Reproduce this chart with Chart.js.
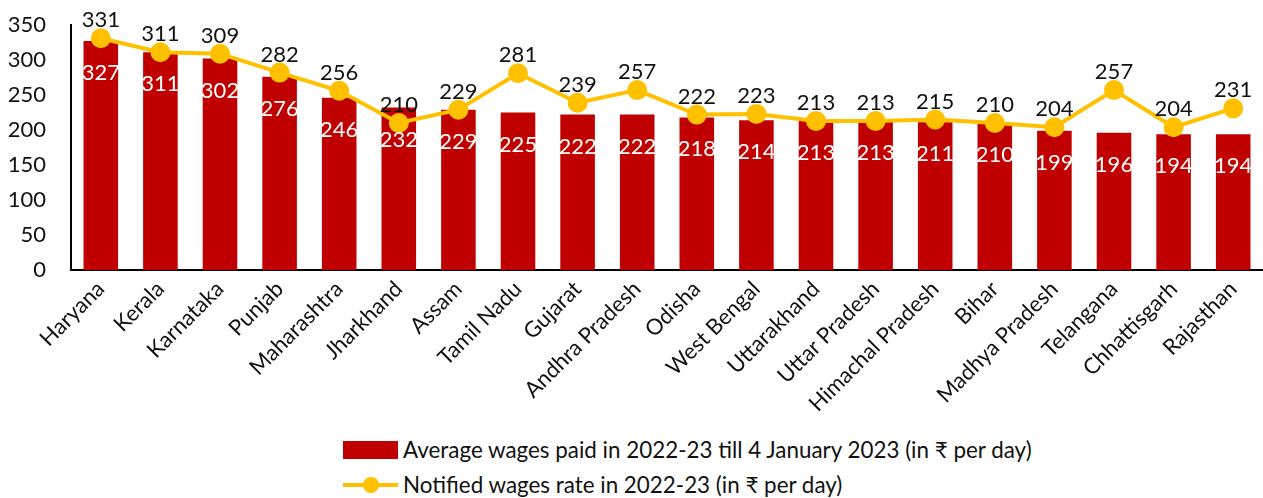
<!DOCTYPE html>
<html>
<head>
<meta charset="utf-8">
<script src="https://cdn.jsdelivr.net/npm/chart.js@4.4.0/dist/chart.umd.min.js"></script>
<style>
  html, body { margin: 0; padding: 0; background: #fff; }
  body { width: 1263px; height: 498px; overflow: hidden; font-family: Lato, "Open Sans", sans-serif; }
  #wrap { position: relative; width: 1263px; height: 423px; }
  #legend { position: absolute; left: 343px; top: 432px; font-size: 22.4px; color: #111; line-height: 35px; }
  .item { display: flex; align-items: center; white-space: nowrap; }
  .box { width: 55px; height: 18px; background: #C00000; margin-right: 5px; }
  .line { position: relative; width: 55px; height: 18px; margin-right: 5px; }
  .line::before { content: ""; position: absolute; left: 0; right: 0; top: 7px; height: 4px; background: #FFC000; }
  .line::after { content: ""; position: absolute; left: 20px; top: 1px; width: 16px; height: 16px; border-radius: 50%; background: #FFC000; }
</style>
</head>
<body>
<div id="wrap"><canvas id="c" width="1263" height="423"></canvas></div>
<div id="legend">
  <div class="item"><span class="box"></span><span>Average wages paid in 2022-23 till 4 January 2023 (in ₹ per day)</span></div>
  <div class="item"><span class="line"></span><span>Notified wages rate in 2022-23 (in ₹ per day)</span></div>
</div>
<script>
const categories = ["Haryana","Kerala","Karnataka","Punjab","Maharashtra","Jharkhand","Assam","Tamil Nadu","Gujarat","Andhra Pradesh","Odisha","West Bengal","Uttarakhand","Uttar Pradesh","Himachal Pradesh","Bihar","Madhya Pradesh","Telangana","Chhattisgarh","Rajasthan"];
const averageWagesPaid = [327,311,302,276,246,232,229,225,222,222,218,214,213,213,211,210,199,196,194,194];
const notifiedWageRate = [331,311,309,282,256,210,229,281,239,257,222,223,213,213,215,210,204,257,204,231];
const yTicks = [0,50,100,150,200,250,300,350];

const FONT = 'Lato, "Open Sans", sans-serif';

const labelPlugin = {
  id: 'valueLabels',
  afterDatasetsDraw(chart) {
    const ctx = chart.ctx;
    ctx.save();
    ctx.font = '22px ' + FONT;
    ctx.textAlign = 'center';
    ctx.textBaseline = 'middle';
    const barMeta = chart.getDatasetMeta(1);
    barMeta.data.forEach((el, i) => {
      ctx.fillStyle = '#ffffff';
      ctx.fillText(String(averageWagesPaid[i]), el.x, el.y + 32);
    });
    const lineMeta = chart.getDatasetMeta(0);
    lineMeta.data.forEach((el, i) => {
      ctx.fillStyle = '#111111';
      ctx.fillText(String(notifiedWageRate[i]), el.x, el.y - 18);
    });
    ctx.restore();
  }
};

const noSidePadding = {
  id: 'noSidePadding',
  beforeLayout(chart) {
    const xs = chart.scales.x;
    if (xs && !xs._patched) {
      const orig = xs.getPadding.bind(xs);
      xs.getPadding = function () {
        const p = orig();
        return { left: 0, right: 0, top: p.top, bottom: p.bottom };
      };
      xs._patched = true;
    }
  }
};

new Chart(document.getElementById('c'), {
  data: {
    labels: categories,
    datasets: [
      {
        type: 'line',
        label: 'Notified wages rate in 2022-23 (in ₹ per day)',
        data: notifiedWageRate,
        borderColor: '#FFC000',
        backgroundColor: '#FFC000',
        borderWidth: 4,
        pointRadius: 8,
        pointHoverRadius: 8,
        pointBackgroundColor: '#FFC000',
        pointBorderColor: '#FFC000',
        tension: 0,
        order: 0
      },
      {
        type: 'bar',
        label: 'Average wages paid in 2022-23 till 4 January 2023 (in ₹ per day)',
        data: averageWagesPaid,
        backgroundColor: '#C00000',
        borderWidth: 0,
        barPercentage: 0.58,
        categoryPercentage: 1.0,
        order: 1
      }
    ]
  },
  options: {
    responsive: false,
    animation: false,
    layout: { autoPadding: false, padding: { top: 25, left: 0, right: 0, bottom: 0 } },
    plugins: { legend: { display: false }, tooltip: { enabled: false } },
    scales: {
      x: {
        afterFit(scale) { scale.paddingLeft = 0; scale.paddingRight = 0; },
        grid: { display: false, drawTicks: false },
        border: { display: true, color: '#000', width: 2 },
        ticks: {
          autoSkip: false, maxRotation: 45, minRotation: 45,
          color: '#111', font: { family: FONT, size: 22 }, padding: 6
        }
      },
      y: {
        min: 0, max: 350,
        afterBuildTicks(axis) { axis.ticks = yTicks.map(v => ({ value: v })); },
        afterFit(axis) { axis.width = 71; axis.paddingTop = 0; axis.paddingBottom = 0; },
        grid: { display: false, drawTicks: false },
        border: { display: true, color: '#000', width: 2 },
        ticks: { color: '#111', font: { family: FONT, size: 22 }, padding: 25 }
      }
    }
  },
  plugins: [labelPlugin, noSidePadding]
});
</script>
</body>
</html>
